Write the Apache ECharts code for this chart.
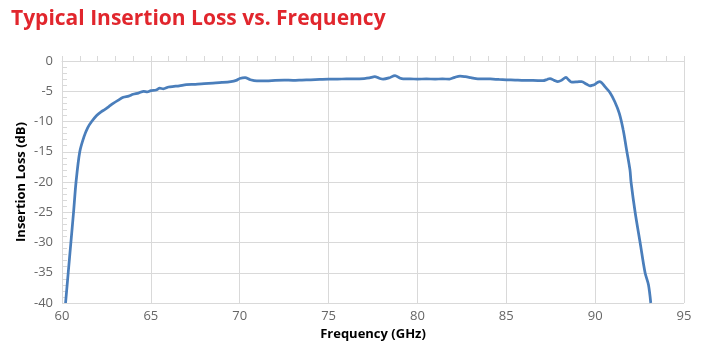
<!DOCTYPE html>
<html>
<head>
<meta charset="utf-8">
<script src="https://cdn.jsdelivr.net/npm/echarts@6/dist/echarts.min.js"></script>
<style>
  html, body { margin: 0; padding: 0; background: #fff; }
  #chart { width: 717px; height: 354px; }
</style>
</head>
<body>
<div id="chart"></div>
<script>
// frequency (GHz) and insertion loss (dB)
const freqGHz = [
  60.2, 60.35, 60.5, 60.65, 60.79, 61.0, 61.24, 61.45, 61.67, 61.95,
  62.2, 62.42, 62.65, 62.88, 63.15, 63.45, 63.75, 64.0, 64.3, 64.6,
  64.8, 65.0, 65.3, 65.5, 65.7, 66.0, 66.3, 66.6, 67.0, 67.5,
  68.0, 68.5, 69.0, 69.5, 69.8, 70.0, 70.3, 70.6, 70.96, 71.5,
  72.0, 72.5, 73.0, 73.5, 74.0, 74.5, 75.0, 75.5, 76.0, 76.5,
  77.0, 77.3, 77.6, 77.85, 78.07, 78.4, 78.74, 79.0, 79.2, 79.6,
  80.0, 80.5, 81.0, 81.4, 81.8, 82.1, 82.4, 82.7, 83.0, 83.4,
  84.1, 84.6, 85.0, 85.5, 86.0, 86.5, 87.07, 87.3, 87.46, 87.7,
  87.9, 88.1, 88.36, 88.5, 88.68, 89.0, 89.24, 89.5, 89.71, 89.85,
  89.99, 90.15, 90.27, 90.4, 90.55, 90.83, 91.1, 91.36, 91.58, 91.77,
  91.96, 92.02, 92.25, 92.53, 92.81, 93.0, 93.13
];
const lossDb = [
  -40, -35, -30, -25, -20, -15, -12.5, -11, -10, -9,
  -8.4, -8, -7.5, -7, -6.5, -6, -5.8, -5.5, -5.3, -5.0,
  -5.1, -4.9, -4.8, -4.5, -4.6, -4.3, -4.2, -4.1, -3.9, -3.85,
  -3.75, -3.65, -3.55, -3.4, -3.2, -2.9, -2.75, -3.1, -3.3, -3.3,
  -3.2, -3.15, -3.2, -3.15, -3.1, -3.05, -3.0, -3.0, -2.95, -2.95,
  -2.9, -2.8, -2.6, -2.85, -3.0, -2.8, -2.4, -2.8, -2.95, -2.95,
  -3.0, -2.95, -3.0, -2.95, -3.0, -2.7, -2.5, -2.6, -2.75, -2.95,
  -2.97, -3.05, -3.1, -3.15, -3.2, -3.2, -3.25, -3.05, -2.9, -3.2,
  -3.4, -3.2, -2.7, -3.1, -3.5, -3.45, -3.4, -3.8, -4.1, -4.0,
  -3.86, -3.5, -3.4, -3.7, -4.24, -5.2, -6.7, -8.65, -11.4, -14.7,
  -18, -20, -25, -30, -35, -37, -40
];
const xTicks = { min: 60, max: 95, step: 5 };
const yTicks = { min: -40, max: 0, step: 5 };

const chart = echarts.init(document.getElementById('chart'));
const gridColor = '#d9d9d9';
const labelColor = '#666666';

const option = {
  animation: false,
  title: {
    text: 'Typical Insertion Loss vs. Frequency',
    left: 6,
    top: 4,
    textStyle: {
      color: '#e1262d',
      fontFamily: 'Open Sans',
      fontWeight: 'bold',
      fontSize: 21
    }
  },
  grid: { left: 62, right: 33, top: 61, bottom: 51 },
  xAxis: {
    type: 'value',
    min: xTicks.min,
    max: xTicks.max,
    interval: xTicks.step,
    name: 'Frequency (GHz)',
    nameLocation: 'middle',
    nameGap: 22,
    nameTextStyle: { color: '#000', fontWeight: 'bold', fontSize: 13, fontFamily: 'Open Sans' },
    axisLine: { show: true, lineStyle: { color: gridColor } },
    axisTick: { show: true, inside: true, length: 5, lineStyle: { color: gridColor } },
    minorTick: { show: true, splitNumber: 5, length: 5, lineStyle: { color: gridColor } },
    axisLabel: { color: labelColor, fontSize: 13, fontFamily: 'Open Sans', margin: 7 },
    splitLine: { show: true, lineStyle: { color: gridColor } }
  },
  yAxis: {
    type: 'value',
    min: yTicks.min,
    max: yTicks.max,
    interval: yTicks.step,
    name: 'Insertion Loss (dB)',
    nameLocation: 'middle',
    nameGap: 34,
    nameMoveOverlap: false,
    nameTextStyle: { color: '#000', fontWeight: 'bold', fontSize: 13, fontFamily: 'Open Sans' },
    axisLine: { show: true, lineStyle: { color: gridColor } },
    axisTick: { show: true, inside: true, length: 5, lineStyle: { color: gridColor } },
    minorTick: { show: true, splitNumber: 5, length: 5, lineStyle: { color: gridColor } },
    axisLabel: { color: labelColor, fontSize: 13, fontFamily: 'Open Sans', margin: 9 },
    splitLine: { show: true, lineStyle: { color: gridColor } }
  },
  series: [{
    type: 'line',
    data: freqGHz.map((f, i) => [f, lossDb[i]]),
    showSymbol: false,
    smooth: 0.3,
    clip: true,
    lineStyle: { color: '#4a7ebb', width: 2.75 }
  }]
};
chart.setOption(option);
</script>
</body>
</html>
